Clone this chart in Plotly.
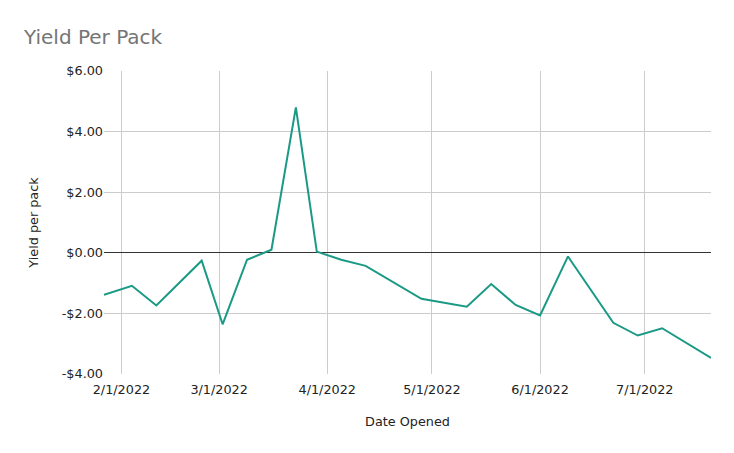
import plotly.graph_objects as go

# dates opened and yield per pack
dates = ["2022-01-27", "2022-02-04", "2022-02-11", "2022-02-24", "2022-03-02",
         "2022-03-09", "2022-03-16", "2022-03-23", "2022-03-29", "2022-04-05",
         "2022-04-12", "2022-04-28", "2022-05-11", "2022-05-18", "2022-05-25",
         "2022-06-01", "2022-06-09", "2022-06-22", "2022-06-29", "2022-07-06",
         "2022-07-20"]
yield_per_pack = [-1.39, -1.09, -1.74, -0.26, -2.36,
                  -0.23, 0.10, 4.80, 0.04, -0.23,
                  -0.43, -1.52, -1.78, -1.03, -1.72,
                  -2.07, -0.12, -2.31, -2.73, -2.49,
                  -3.47]

y_ticks = [-4, -2, 0, 2, 4, 6]
y_labels = ["-$4.00", "-$2.00", "$0.00", "$2.00", "$4.00", "$6.00"]

fig = go.Figure()
fig.add_trace(go.Scatter(
    x=dates, y=yield_per_pack,
    mode="lines",
    line=dict(color="#1a9a85", width=2),
    hoverinfo="x+y",
))

# page body has an 8px margin, so the figure is 8px smaller and left/top margins shifted
fig.update_layout(
    width=726, height=445,
    margin=dict(l=96, r=23, t=63, b=79),
    paper_bgcolor="white",
    plot_bgcolor="white",
    font=dict(family="DejaVu Sans", size=12.8, color="#222222"),
    title=dict(text="Yield Per Pack", x=0.022, xanchor="left", y=0.935, yanchor="middle",
               font=dict(size=20, color="#757575")),
    showlegend=False,
)
fig.update_xaxes(
    range=["2022-01-27", "2022-07-20"],
    tickformat="%-m/%-d/%Y",
    dtick="M1",
    tick0="2022-02-01",
    showgrid=True, gridcolor="#cccccc", gridwidth=1,
    zeroline=False, showline=False,
    ticks="", ticklabelstandoff=6,
    title=dict(text="Date Opened", standoff=21, font=dict(size=12.8)),
)
fig.update_yaxes(
    range=[-4, 6],
    tickvals=y_ticks, ticktext=y_labels,
    showgrid=True, gridcolor="#cccccc", gridwidth=1,
    zeroline=True, zerolinecolor="#333333", zerolinewidth=1,
    showline=False,
    ticks="",
    title=dict(text="Yield per pack", standoff=20, font=dict(size=12.8)),
)

fig.write_html("out.html")
